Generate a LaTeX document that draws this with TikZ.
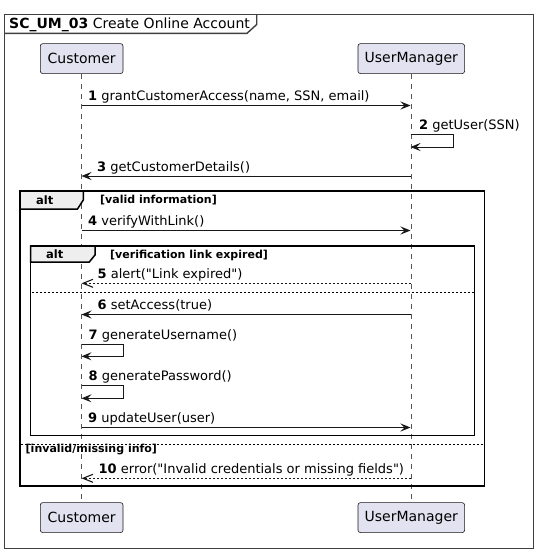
\documentclass[tikz,border=0pt]{standalone}
\usepackage{fontspec}
\setmainfont{DejaVu Sans}[Ligatures=TeXOff]
\usetikzlibrary{arrows.meta}
\definecolor{partfill}{HTML}{E2E2F0}
\definecolor{partline}{HTML}{181818}
\definecolor{tabfill}{HTML}{EEEEEE}
\definecolor{lifegray}{HTML}{555555}
\tikzset{
  partbox/.style={draw=partline, line width=0.6pt, fill=partfill, rounded corners=2.5pt,
    minimum height=30pt, inner sep=0pt, font=\fontsize{14}{16}\selectfont},
  lifeline/.style={draw=lifegray, line width=0.7pt, dash pattern=on 5pt off 5pt},
  msg/.style={draw=partline, line width=0.9pt, -{Stealth[length=10pt,width=8pt,inset=4pt]}},
  retmsg/.style={draw=partline, line width=0.9pt, dash pattern=on 2pt off 2pt,
    -{Straight Barb[length=10pt,width=8pt,line width=1.1pt]}},
  msglabel/.style={anchor=base west, inner sep=0pt, font=\fontsize{13}{15}\selectfont},
  altframe/.style={draw=black, line width=1.5pt},
  alttab/.style={draw=black, line width=1.5pt, fill=tabfill},
  altlabel/.style={anchor=base west, inner sep=0pt, font=\fontsize{11.5}{13}\selectfont\bfseries},
  guard/.style={anchor=base west, inner sep=0pt, font=\fontsize{11}{13}\selectfont\bfseries},
  sep/.style={draw=black, line width=0.8pt, dash pattern=on 2pt off 2pt},
  mainframe/.style={draw=black!75, line width=1.4pt}
}
\begin{document}
\begin{tikzpicture}[x=1pt,y=-1pt]
\useasboundingbox (0,0) rectangle (540,554);
% main frame
\draw[mainframe] (4.3,14.3) rectangle (533.3,548.3);
\draw[mainframe] (4.3,33.3) -- (247,33.3) -- (256.7,24.5) -- (256.7,14.3);
\node[anchor=base west, inner sep=0pt, font=\fontsize{14}{16}\selectfont] (title) at (9,28.3)
  {\textbf{SC\_UM\_03} Create Online Account};
% participants
\node[partbox, minimum width=82.7pt, anchor=north west] (custTop) at (40,43.3) {Customer};
\node[partbox, minimum width=106.6pt, anchor=north west] (umTop) at (357.7,43.3) {UserManager};
\node[partbox, minimum width=82.7pt, anchor=north west] (custBot) at (40,502.3) {Customer};
\node[partbox, minimum width=106.6pt, anchor=north west] (umBot) at (357.7,502.3) {UserManager};
% lifelines
\draw[lifeline] (custTop.south) -- (custBot.north);
\draw[lifeline] (umTop.south) -- (umBot.north);
% outer alt
\draw[altframe] (20,191) rectangle (484.3,486);
\draw[alttab] (20,191) -- (83.3,191) -- (83.3,200) -- (77.5,209) -- (20,209) -- cycle;
\node[altlabel] (alt1) at (36,204) {alt};
\node[guard] (g1) at (100,203.5) {[valid information]};
% inner alt
\draw[altframe] (30.7,246) rectangle (474.3,435.5);
\draw[alttab] (30.7,246) -- (95,246) -- (95,255) -- (89.3,262) -- (30.7,262) -- cycle;
\node[altlabel] (alt2) at (46,258.7) {alt};
\node[guard] (g2) at (110,258.5) {[verification link expired]};
% separators
\coordinate (s1a) at (31.5,292.5); \coordinate (s1b) at (473.5,292.5);
\draw[sep] (s1a) -- (s1b);
\coordinate (s2a) at (20.8,444); \coordinate (s2b) at (483.5,444);
\draw[sep] (s2a) -- (s2b);
\node[guard] (g3) at (25.5,452.5) {[invalid/missing info]};
% message coordinates
\def\cx{81.5}\def\ux{410.5}
\coordinate (c1) at (\cx,105.5); \coordinate (u1) at (\ux,105.5);
\coordinate (u2a) at (\ux,134.3); \coordinate (u2b) at (453.7,134.3);
\coordinate (u2c) at (453.7,147); \coordinate (u2d) at (\ux,147);
\coordinate (c3) at (\cx,176); \coordinate (u3) at (\ux,176);
\coordinate (c4) at (\cx,230.5); \coordinate (u4) at (\ux,230.5);
\coordinate (c5) at (\cx,283.3); \coordinate (u5) at (\ux,283.3);
\coordinate (c6) at (\cx,314.5); \coordinate (u6) at (\ux,314.5);
\coordinate (c7a) at (\cx,344); \coordinate (c7b) at (123.3,344);
\coordinate (c7c) at (123.3,356.3); \coordinate (c7d) at (\cx,356.3);
\coordinate (c8a) at (\cx,385.7); \coordinate (c8b) at (123.3,385.7);
\coordinate (c8c) at (123.3,398.3); \coordinate (c8d) at (\cx,398.3);
\coordinate (c9) at (\cx,427.5); \coordinate (u9) at (\ux,427.5);
\coordinate (c10) at (\cx,478.3); \coordinate (u10) at (\ux,478.3);
% messages
\draw[msg] (c1) -- (u1);
\node[msglabel] (m1) at (88,100.5) {\textbf{1} grantCustomerAccess(name, SSN, email)};
\draw[msg] (u2a) -- (u2b) -- (u2c) -- (u2d);
\node[msglabel] (m2) at (419,129.5) {\textbf{2} getUser(SSN)};
\draw[msg] (u3) -- (c3);
\node[msglabel] (m3) at (97,171) {\textbf{3} getCustomerDetails()};
\draw[msg] (c4) -- (u4);
\node[msglabel] (m4) at (88,225.5) {\textbf{4} verifyWithLink()};
\draw[retmsg] (u5) -- (c5);
\node[msglabel] (m5) at (97.5,278.3) {\textbf{5} alert("Link expired")};
\draw[msg] (u6) -- (c6);
\node[msglabel] (m6) at (97.5,309.5) {\textbf{6} setAccess(true)};
\draw[msg] (c7a) -- (c7b) -- (c7c) -- (c7d);
\node[msglabel] (m7) at (88.5,339.2) {\textbf{7} generateUsername()};
\draw[msg] (c8a) -- (c8b) -- (c8c) -- (c8d);
\node[msglabel] (m8) at (88.5,380.9) {\textbf{8} generatePassword()};
\draw[msg] (c9) -- (u9);
\node[msglabel] (m9) at (88,422.5) {\textbf{9} updateUser(user)};
\draw[retmsg] (u10) -- (c10);
\node[msglabel] (m10) at (98.5,473.3) {\textbf{10} error("Invalid credentials or missing fields")};
\end{tikzpicture}
\end{document}
